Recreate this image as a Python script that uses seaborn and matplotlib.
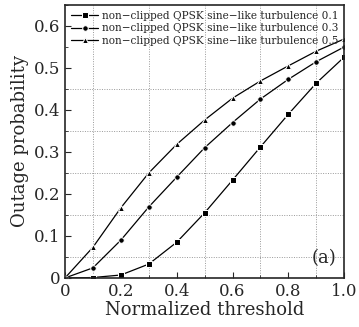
import numpy as np
import pandas as pd
import seaborn as sns
import matplotlib
matplotlib.use("Agg")
import matplotlib.pyplot as plt
from matplotlib.ticker import MultipleLocator

thresholds = [0.0, 0.1, 0.2, 0.3, 0.4, 0.5, 0.6, 0.7, 0.8, 0.9, 1.0]
turb_01 = [0.0, 0.001, 0.007, 0.033, 0.085, 0.155, 0.233, 0.312, 0.390, 0.464, 0.526]
turb_03 = [0.0, 0.024, 0.090, 0.169, 0.240, 0.310, 0.370, 0.426, 0.473, 0.515, 0.550]
turb_05 = [0.0, 0.073, 0.167, 0.250, 0.318, 0.376, 0.428, 0.469, 0.505, 0.540, 0.569]
labels = ["non\u2212clipped QPSK sine\u2212like turbulence 0.1",
          "non\u2212clipped QPSK sine\u2212like turbulence 0.3",
          "non\u2212clipped QPSK sine\u2212like turbulence 0.5"]
markers = ["s", "o", "^"]

df = pd.DataFrame({
    "x": thresholds * 3,
    "y": turb_01 + turb_03 + turb_05,
    "series": [labels[0]] * 11 + [labels[1]] * 11 + [labels[2]] * 11,
})

sns.set_style("ticks")
plt.rcParams['font.family'] = ['DejaVu Serif']
plt.rcParams['mathtext.fontset'] = 'dejavuserif'

fig = plt.figure(figsize=(3.59, 3.27), dpi=100)
ax = fig.add_axes([0.181, 0.150, 0.778, 0.835])

sns.lineplot(data=df, x="x", y="y", hue="series", style="series",
             markers=markers, dashes=False, palette=["black"] * 3,
             markersize=4, linewidth=0.9, ax=ax, legend=True)

for v in [0.1, 0.3, 0.5, 0.7, 0.9]:
    ax.axvline(v, color="#999999", linestyle=(0, (1, 1.5)), linewidth=0.7, zorder=0)
for v in [0.05, 0.15, 0.25, 0.35, 0.45]:
    ax.axhline(v, color="#999999", linestyle=(0, (1, 1.5)), linewidth=0.7, zorder=0)

ax.set_xlim(0, 1.0)
ax.set_ylim(0, 0.65)
ax.xaxis.set_minor_locator(MultipleLocator(0.1))
ax.yaxis.set_minor_locator(MultipleLocator(0.05))
ax.set_xticks([0, 0.2, 0.4, 0.6, 0.8, 1.0])
ax.set_xticklabels(["0", "0.2", "0.4", "0.6", "0.8", "1.0"])
ax.set_yticks([0, 0.1, 0.2, 0.3, 0.4, 0.5, 0.6])
ax.set_yticklabels(["0", "0.1", "0.2", "0.3", "0.4", "0.5", "0.6"])
ax.tick_params(which="both", direction="in", labelsize=12, top=False, right=False)
ax.tick_params(which="major", length=4)
ax.tick_params(which="minor", length=2)
for s in ax.spines.values():
    s.set_linewidth(1.2)

ax.set_xlabel("Normalized threshold", fontsize=13, labelpad=1)
ax.set_ylabel("Outage probability", fontsize=13, labelpad=3)

leg = ax.legend(loc="upper left", frameon=False, fontsize=7.6, handlelength=2.6,
                borderaxespad=0.15, labelspacing=0.25, handletextpad=0.4)

ax.text(0.97, 0.04, "(a)", transform=ax.transAxes, ha="right", va="bottom", fontsize=13)

fig.savefig("out.png", dpi=100)
